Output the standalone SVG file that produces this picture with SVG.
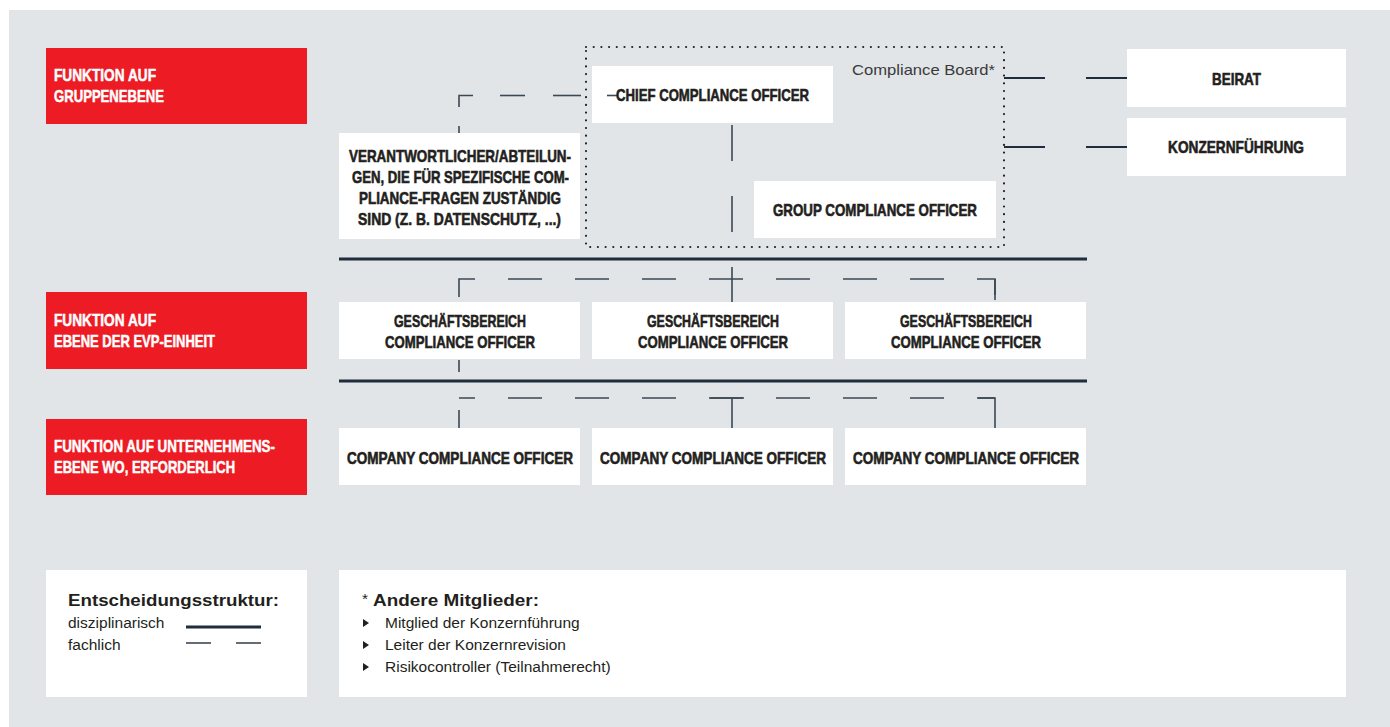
<svg xmlns="http://www.w3.org/2000/svg" width="1390" height="727" viewBox="0 0 1390 727">
<style>
.bg{fill:#e1e5e8}
.red{fill:#ed1c24}
.box{fill:#ffffff}
.h{font-family:"Liberation Sans Narrow","Liberation Sans",Arial,sans-serif;font-weight:700;font-size:17px;fill:#231f20;stroke:#231f20;stroke-width:0.6}
.hs{font-size:16px}
.hw{font-family:"Liberation Sans Narrow","Liberation Sans",Arial,sans-serif;font-weight:700;font-size:17px;fill:#ffffff;stroke:#ffffff;stroke-width:0.5}
.t{font-family:"Liberation Sans",Arial,sans-serif;font-size:15.5px;fill:#231f20}
.tb{font-family:"Liberation Sans",Arial,sans-serif;font-weight:700;font-size:16px;fill:#231f20}
.cb{font-family:"Liberation Sans",Arial,sans-serif;font-size:15px;fill:#3a3a3a}
.thin{stroke:#3b4856;stroke-width:1.6;fill:none}
.thick{stroke:#1f2d3d;stroke-width:3;fill:none}
.mid{stroke:#1f2d3d;stroke-width:2;fill:none}
.dot{stroke:#231f20;stroke-width:2.2;stroke-linecap:round;stroke-dasharray:0 7.7;fill:none}
</style>
<rect class="bg" x="9" y="10" width="1381" height="717"/>

<g id="level-group">
<rect class="red" x="46" y="48" width="261" height="76"/>
<text class="hw" x="54" y="81" textLength="102" lengthAdjust="spacingAndGlyphs">FUNKTION AUF</text>
<text class="hw" x="54" y="102" textLength="110" lengthAdjust="spacingAndGlyphs">GRUPPENEBENE</text>
</g>
<g id="level-evp">
<rect class="red" x="46" y="292" width="261" height="77"/>
<text class="hw" x="54" y="326" textLength="102" lengthAdjust="spacingAndGlyphs">FUNKTION AUF</text>
<text class="hw" x="54" y="347" textLength="161" lengthAdjust="spacingAndGlyphs">EBENE DER EVP-EINHEIT</text>
</g>
<g id="level-company">
<rect class="red" x="46" y="419" width="261" height="76"/>
<text class="hw" x="54" y="452" textLength="221" lengthAdjust="spacingAndGlyphs">FUNKTION AUF UNTERNEHMENS-</text>
<text class="hw" x="54" y="473" textLength="181" lengthAdjust="spacingAndGlyphs">EBENE WO, ERFORDERLICH</text>
</g>

<g id="compliance-board">
<rect class="dot" x="586" y="47" width="418" height="200"/>
<text class="cb" x="995" y="75" text-anchor="end" textLength="143" lengthAdjust="spacingAndGlyphs">Compliance Board*</text>
</g>

<g id="connectors">
<line class="thin" x1="459" y1="126" x2="459" y2="133"/>
<polyline class="thin" points="459,107 459,95.5 473,95.5"/>
<line class="thin" x1="500" y1="95.5" x2="525" y2="95.5"/>
<line class="thin" x1="553" y1="95.5" x2="581" y2="95.5"/>
<line class="thin" x1="732" y1="125" x2="732" y2="161"/>
<line class="thin" x1="732" y1="196" x2="732" y2="232"/>
<line class="mid" x1="1004" y1="78" x2="1045" y2="78"/>
<line class="mid" x1="1086" y1="78" x2="1127" y2="78"/>
<line class="mid" x1="1004" y1="147" x2="1045" y2="147"/>
<line class="mid" x1="1086" y1="147" x2="1127" y2="147"/>
<line class="thick" x1="339" y1="259" x2="1087" y2="259"/>
<line class="thick" x1="339" y1="381" x2="1087" y2="381"/>
<path class="thin" d="M459,297 V279 H995 V300" stroke-dasharray="34 33"/>
<line class="thin" x1="995" y1="279" x2="995" y2="300"/>
<line class="thin" x1="732" y1="267" x2="732" y2="302"/>
<line class="thin" x1="459" y1="360" x2="459" y2="372"/>
<path class="thin" d="M459,398 H995" stroke-dasharray="34 33" stroke-dashoffset="18"/>
<line class="thin" x1="459" y1="410" x2="459" y2="428"/>
<polyline class="thin" points="978,398 995,398 995,428"/>
<polyline class="thin" points="710,398 744,398"/>
<line class="thin" x1="732" y1="398" x2="732" y2="428"/>
</g>

<g id="chief">
<rect class="box" x="592" y="66" width="241" height="57"/>
<line class="thin" x1="607" y1="95.5" x2="617" y2="95.5"/>
<text class="h" x="616" y="101" textLength="193" lengthAdjust="spacingAndGlyphs">CHIEF COMPLIANCE OFFICER</text>
</g>
<g id="verantwortliche">
<rect class="box" x="339" y="133" width="241" height="106"/>
<text class="h" x="349" y="162" textLength="222" lengthAdjust="spacingAndGlyphs">VERANTWORTLICHER/ABTEILUN-</text>
<text class="h" x="352" y="183" textLength="217" lengthAdjust="spacingAndGlyphs">GEN, DIE FÜR SPEZIFISCHE COM-</text>
<text class="h" x="359" y="204" textLength="202" lengthAdjust="spacingAndGlyphs">PLIANCE-FRAGEN ZUSTÄNDIG</text>
<text class="h" x="358" y="225" textLength="203" lengthAdjust="spacingAndGlyphs">SIND (Z. B. DATENSCHUTZ, ...)</text>
</g>
<g id="group-co">
<rect class="box" x="754" y="181" width="242" height="57"/>
<text class="h" x="773" y="216" textLength="204" lengthAdjust="spacingAndGlyphs">GROUP COMPLIANCE OFFICER</text>
</g>
<g id="beirat">
<rect class="box" x="1127" y="49" width="219" height="58"/>
<text class="h" x="1212" y="85" textLength="49" lengthAdjust="spacingAndGlyphs">BEIRAT</text>
</g>
<g id="konzernfuehrung">
<rect class="box" x="1127" y="118" width="219" height="58"/>
<text class="h" x="1168" y="153" textLength="136" lengthAdjust="spacingAndGlyphs">KONZERNFÜHRUNG</text>
</g>

<g id="gb-1">
<rect class="box" x="339" y="302" width="241" height="57"/>
<text class="h" x="394" y="327" textLength="132" lengthAdjust="spacingAndGlyphs">GESCHÄFTSBEREICH</text>
<text class="h" x="385" y="348" textLength="150" lengthAdjust="spacingAndGlyphs">COMPLIANCE OFFICER</text>
</g>
<g id="gb-2">
<rect class="box" x="592" y="302" width="241" height="57"/>
<text class="h" x="647" y="327" textLength="132" lengthAdjust="spacingAndGlyphs">GESCHÄFTSBEREICH</text>
<text class="h" x="638" y="348" textLength="150" lengthAdjust="spacingAndGlyphs">COMPLIANCE OFFICER</text>
</g>
<g id="gb-3">
<rect class="box" x="845" y="302" width="241" height="57"/>
<text class="h" x="900" y="327" textLength="132" lengthAdjust="spacingAndGlyphs">GESCHÄFTSBEREICH</text>
<text class="h" x="891" y="348" textLength="150" lengthAdjust="spacingAndGlyphs">COMPLIANCE OFFICER</text>
</g>

<g id="cco-1">
<rect class="box" x="339" y="428" width="241" height="57"/>
<text class="h hs" x="347" y="464" textLength="226" lengthAdjust="spacingAndGlyphs">COMPANY COMPLIANCE OFFICER</text>
</g>
<g id="cco-2">
<rect class="box" x="592" y="428" width="241" height="57"/>
<text class="h hs" x="600" y="464" textLength="226" lengthAdjust="spacingAndGlyphs">COMPANY COMPLIANCE OFFICER</text>
</g>
<g id="cco-3">
<rect class="box" x="845" y="428" width="241" height="57"/>
<text class="h hs" x="853" y="464" textLength="226" lengthAdjust="spacingAndGlyphs">COMPANY COMPLIANCE OFFICER</text>
</g>

<g id="legend-structure">
<rect class="box" x="46" y="570" width="261" height="127"/>
<text class="tb" x="68" y="606" textLength="211" lengthAdjust="spacingAndGlyphs">Entscheidungsstruktur:</text>
<text class="t" x="68" y="628">disziplinarisch</text>
<text class="t" x="68" y="650">fachlich</text>
<line class="thick" x1="186" y1="627" x2="261" y2="627" stroke-width="2.5"/>
<line class="thin" x1="186" y1="643" x2="211" y2="643"/>
<line class="thin" x1="236" y1="643" x2="261" y2="643"/>
</g>

<g id="legend-members">
<rect class="box" x="339" y="570" width="1007" height="127"/>
<text class="t" x="362" y="604" font-size="14">*</text>
<text class="tb" x="373" y="606" textLength="166" lengthAdjust="spacingAndGlyphs">Andere Mitglieder:</text>
<polygon points="363,619 369,623 363,627" fill="#231f20"/>
<polygon points="363,641 369,645 363,649" fill="#231f20"/>
<polygon points="363,663 369,667 363,671" fill="#231f20"/>
<text class="t" x="385" y="628">Mitglied der Konzernführung</text>
<text class="t" x="385" y="650">Leiter der Konzernrevision</text>
<text class="t" x="385" y="672">Risikocontroller (Teilnahmerecht)</text>
</g>
</svg>
